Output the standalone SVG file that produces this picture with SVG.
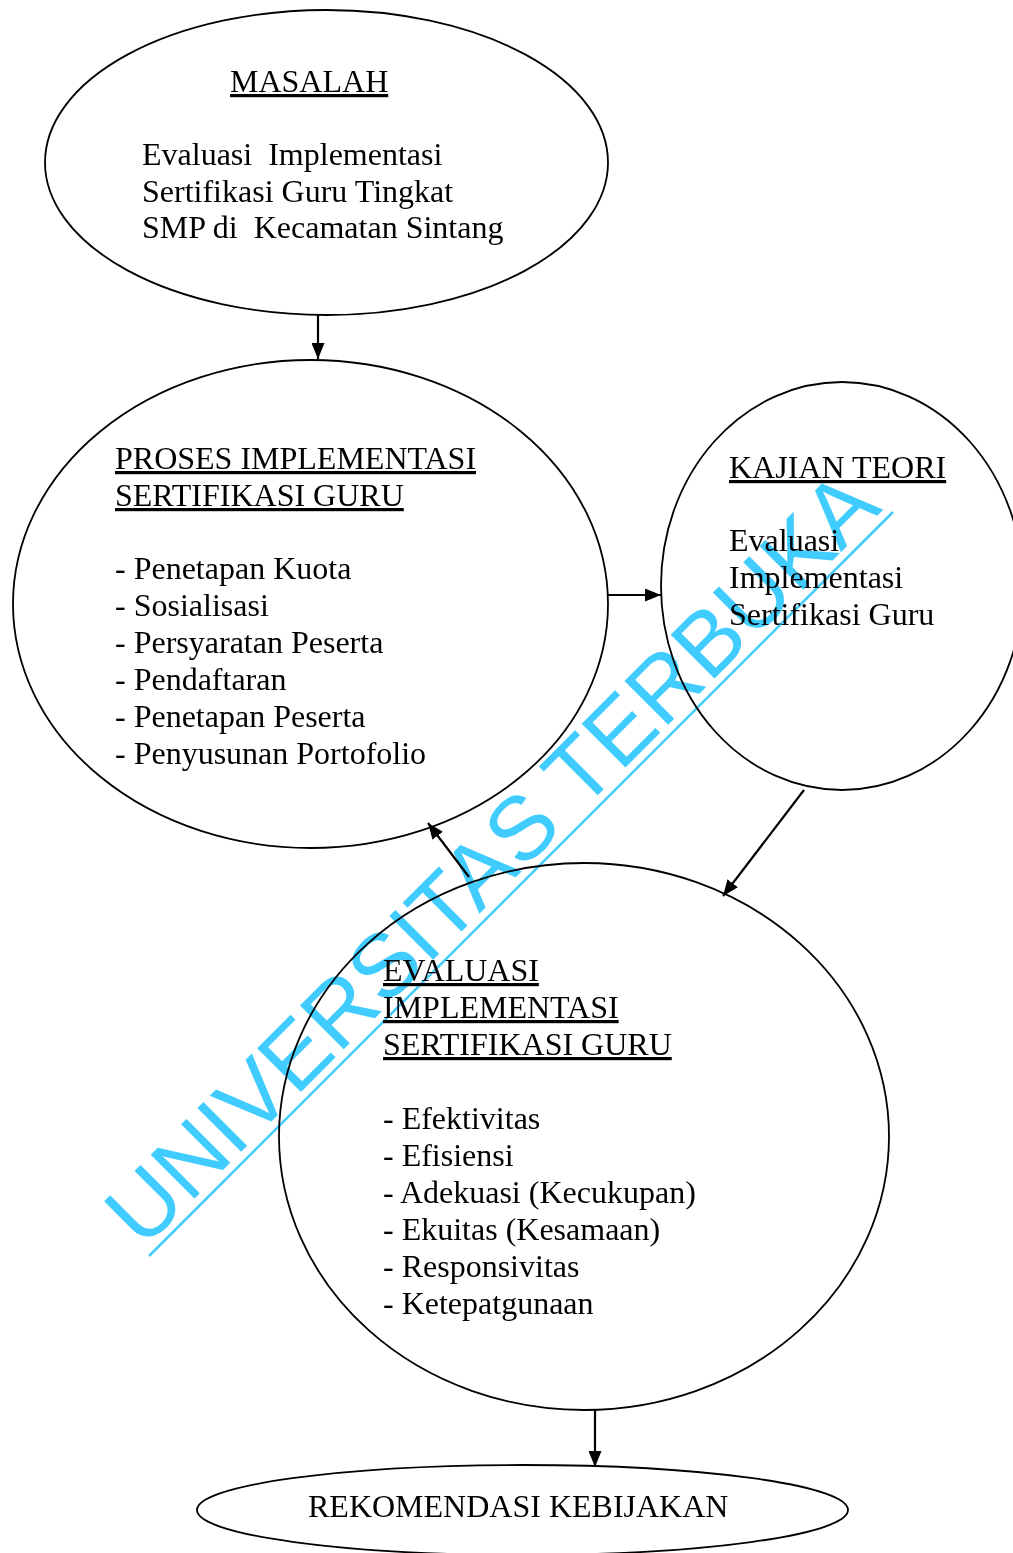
<svg xmlns="http://www.w3.org/2000/svg" width="1013" height="1553" viewBox="0 0 1013 1553">
<style>
.shape{fill:none;stroke:#000;stroke-width:1.8}
.t{font-family:"Liberation Serif","Times New Roman",serif;font-size:32px;fill:#000}
.u{text-decoration:underline}
.conn{stroke:#000;stroke-width:2.2;fill:none}
.wm{font-family:"Liberation Sans",Arial,sans-serif;font-size:90px;fill:#40CCFF}
</style>
<defs>
<marker id="ah" viewBox="0 0 16 13" refX="16" refY="6.5" markerWidth="16" markerHeight="13" markerUnits="userSpaceOnUse" orient="auto">
<path d="M0,0 L16,6.5 L0,13 Z" fill="#000"/>
</marker>
</defs>
<rect width="1013" height="1553" fill="#fff"/>
<g id="masalah">
<ellipse class="shape" cx="326.5" cy="162.5" rx="281.5" ry="152.5"/>
<text class="t u" x="230" y="92">MASALAH</text>
<text class="t" x="142" y="165" xml:space="preserve">Evaluasi  Implementasi</text>
<text class="t" x="142" y="201.5">Sertifikasi Guru Tingkat</text>
<text class="t" x="142" y="238" xml:space="preserve">SMP di  Kecamatan Sintang</text>
</g>
<g id="proses">
<ellipse class="shape" cx="310.5" cy="604" rx="297.5" ry="244"/>
<text class="t u" x="115" y="469">PROSES IMPLEMENTASI</text>
<text class="t u" x="115" y="506">SERTIFIKASI GURU</text>
<text class="t" x="115" y="579">- Penetapan Kuota</text>
<text class="t" x="115" y="616">- Sosialisasi</text>
<text class="t" x="115" y="653">- Persyaratan Peserta</text>
<text class="t" x="115" y="690">- Pendaftaran</text>
<text class="t" x="115" y="726.5">- Penetapan Peserta</text>
<text class="t" x="115" y="763.5">- Penyusunan Portofolio</text>
</g>
<g id="kajian">
<ellipse class="shape" cx="842" cy="586" rx="181" ry="204"/>
<text class="t u" x="729" y="478">KAJIAN TEORI</text>
<text class="t" x="729" y="551">Evaluasi</text>
<text class="t" x="729" y="588">Implementasi</text>
<text class="t" x="729" y="625">Sertifikasi Guru</text>
</g>
<g id="evaluasi">
<ellipse class="shape" cx="584" cy="1136.5" rx="305" ry="273.5"/>
<text class="t u" x="383" y="981">EVALUASI</text>
<text class="t u" x="383" y="1018">IMPLEMENTASI</text>
<text class="t u" x="383" y="1055">SERTIFIKASI GURU</text>
<text class="t" x="383" y="1128.5">- Efektivitas</text>
<text class="t" x="383" y="1165.5">- Efisiensi</text>
<text class="t" x="383" y="1202.5">- Adekuasi (Kecukupan)</text>
<text class="t" x="383" y="1239.5">- Ekuitas (Kesamaan)</text>
<text class="t" x="383" y="1276.5">- Responsivitas</text>
<text class="t" x="383" y="1313.5">- Ketepatgunaan</text>
</g>
<g id="rekomendasi">
<ellipse class="shape" cx="522.5" cy="1510" rx="325.5" ry="45"/>
<text class="t" x="308" y="1517">REKOMENDASI KEBIJAKAN</text>
</g>
<g id="connectors">
<line class="conn" x1="318" y1="315" x2="318" y2="359" marker-end="url(#ah)"/>
<line class="conn" x1="608" y1="595" x2="661" y2="595" marker-end="url(#ah)"/>
<line class="conn" x1="804" y1="790" x2="723" y2="896" marker-end="url(#ah)"/>
<line class="conn" x1="469" y1="877" x2="428" y2="823" marker-end="url(#ah)"/>
<line class="conn" x1="595" y1="1410" x2="595" y2="1467" marker-end="url(#ah)"/>
</g>
<g id="watermark" style="mix-blend-mode:multiply">
<text class="wm" transform="translate(143,1250) rotate(-45)" x="0" y="0" textLength="1047" lengthAdjust="spacingAndGlyphs">UNIVERSITAS TERBUKA</text>
<line x1="149" y1="1256" x2="893" y2="512" stroke="#40CCFF" stroke-width="2.5"/>
</g>
</svg>
